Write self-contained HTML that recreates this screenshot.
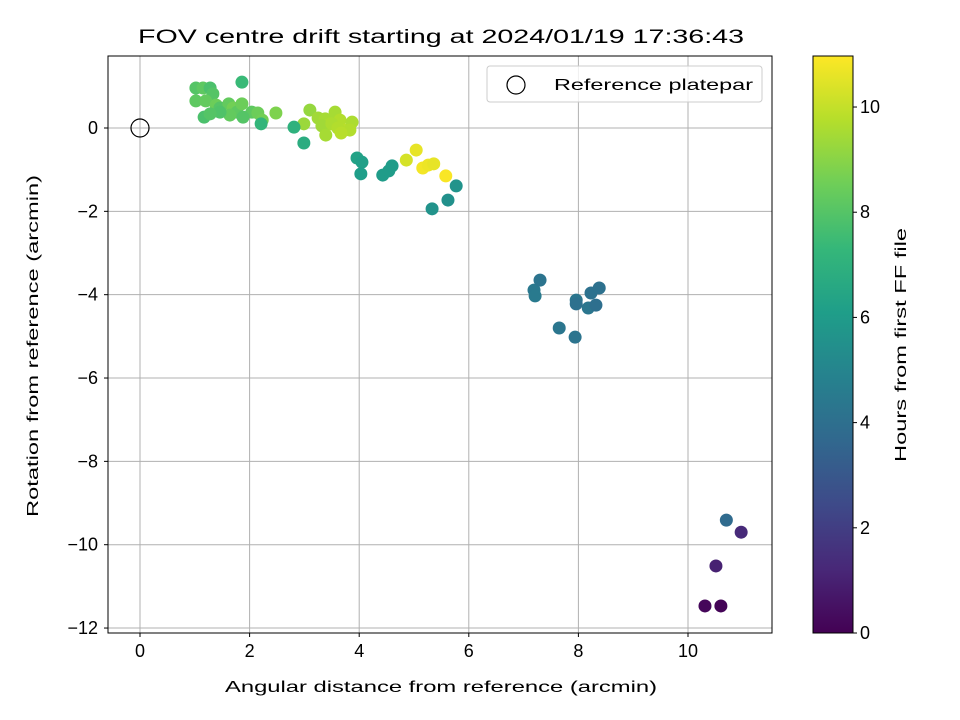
<!DOCTYPE html>
<html><head><meta charset="utf-8"><style>
body{margin:0;background:#fff}
text{font-family:"Liberation Sans","DejaVu Sans",sans-serif;fill:#000}
</style></head><body>
<svg id="chart" width="960" height="720" xmlns="http://www.w3.org/2000/svg" style="position:absolute;left:0;top:0">
<defs><linearGradient id="vir" x1="0" y1="1" x2="0" y2="0"></linearGradient></defs>
<g id="grid"></g><g id="pts"></g><g id="axes"></g>
<text x="441" y="43" font-size="19" text-anchor="middle" textLength="606" lengthAdjust="spacingAndGlyphs">FOV centre drift starting at 2024/01/19 17:36:43</text>
<text x="441" y="692" font-size="16" text-anchor="middle" textLength="432" lengthAdjust="spacingAndGlyphs">Angular distance from reference (arcmin)</text>
<text transform="translate(38,346) rotate(-90)" font-size="16" text-anchor="middle" textLength="342" lengthAdjust="spacingAndGlyphs">Rotation from reference (arcmin)</text>
<text transform="translate(906,345) rotate(-90)" font-size="16" text-anchor="middle" textLength="234" lengthAdjust="spacingAndGlyphs">Hours from first FF file</text>
<g>
<rect x="487" y="66" width="275" height="36" rx="3" fill="#fff" fill-opacity="0.8" stroke="#ccc"/>
<circle cx="516" cy="85" r="9" fill="none" stroke="#000" stroke-width="1.2"/>
<text x="554" y="90" font-size="16" textLength="199" lengthAdjust="spacingAndGlyphs">Reference platepar</text>
</g>
</svg>
<script>
const xs=[1.02,1.15,1.28,1.02,1.33,1.2,1.39,1.46,1.62,1.70,1.77,1.86,1.86,1.64,1.46,1.17,1.28,2.04,2.15,2.23,2.48,2.21,1.88,
2.99,3.10,3.25,3.38,3.47,3.56,3.32,3.65,3.74,3.87,3.83,3.39,3.50,3.61,3.67,
2.81,2.99,3.96,4.05,4.03,4.43,4.54,4.60,
4.86,5.04,5.16,5.26,5.36,5.58,
5.33,5.62,5.77,
7.19,7.21,7.30,7.65,7.94,7.96,7.96,8.18,8.23,8.32,8.38,
10.70,10.97,10.51,10.31,10.60];
const ys=[0.96,0.96,0.96,0.65,0.82,0.65,0.55,0.48,0.58,0.48,0.38,0.58,1.10,0.31,0.38,0.26,0.34,0.38,0.36,0.19,0.36,0.10,0.26,
0.10,0.43,0.24,0.22,0.10,0.38,0.05,0.19,-0.05,0.14,-0.05,-0.17,0.10,0,-0.12,
0.02,-0.36,-0.72,-0.82,-1.10,-1.13,-1.03,-0.91,
-0.77,-0.53,-0.96,-0.89,-0.86,-1.15,
-1.94,-1.73,-1.39,
-3.89,-4.03,-3.65,-4.80,-5.02,-4.13,-4.22,-4.32,-3.96,-4.25,-3.84,
-9.41,-9.70,-10.51,-11.47,-11.47];
const hrs=[8,8.2,7.8,8.2,8,8.3,8.5,8,8.3,8.6,8.2,8.5,7.4,8.3,7.9,7.8,8,8.2,8.5,8.6,8.8,7.2,8,
9.3,9.2,9.4,9.5,9.6,9.5,9.4,9.7,9.8,9.6,9.7,9.5,9.6,9.7,9.8,
7,6.8,6.3,6.2,6.1,6,6,6,
10.3,10.6,10.8,10.7,10.6,10.9,
5.6,5.5,5.6,
4.4,4.5,4.2,4.3,4.2,4.3,4.1,4.3,4.1,4,4.1,
3.8,1.3,1.0,0.2,0.1];
const xTicks=[0,2,4,6,8,10], yTicks=[0,-2,-4,-6,-8,-10,-12], cTicks=[0,2,4,6,8,10];
const X=v=>140+v*54.8, Y=v=>128-v*41.67, HMAX=10.97, C=h=>633-h/HMAX*577;
const vir=[[68,1,84],[72,40,120],[62,74,137],[49,104,142],[38,130,142],[31,158,137],[53,183,121],[110,206,88],[181,222,43],[253,231,37]];
function col(h){let t=Math.max(0,Math.min(1,h/HMAX))*(vir.length-1),i=Math.min(vir.length-2,Math.floor(t)),f=t-i;
return 'rgb('+vir[i].map((c,k)=>Math.round(c+(vir[i+1][k]-c)*f)).join(',')+')';}
const NS='http://www.w3.org/2000/svg';
function mk(p,tag,a,txt){const e=document.createElementNS(NS,tag);for(const k in a)e.setAttribute(k,a[k]);if(txt!=null)e.textContent=txt;p.appendChild(e);return e;}
const grad=document.getElementById('vir');
vir.forEach((c,i)=>mk(grad,'stop',{offset:i/(vir.length-1),'stop-color':'rgb('+c.join(',')+')'}));
const g=document.getElementById('grid'),pg=document.getElementById('pts'),ax=document.getElementById('axes');
const TF=18;
xTicks.forEach(v=>{const l=mk(g,'line',{x1:X(v),x2:X(v),y1:56,y2:633,stroke:'#b0b0b0','stroke-width':1});


mk(ax,'line',{x1:X(v),x2:X(v),y1:633,y2:637,stroke:'#000'});
const t=mk(ax,'text',{x:X(v),y:657,'font-size':TF,'text-anchor':'middle'},v);

});
yTicks.forEach(v=>{const l=mk(g,'line',{x1:108,x2:772,y1:Y(v),y2:Y(v),stroke:'#b0b0b0','stroke-width':1});


mk(ax,'line',{x1:104,x2:108,y1:Y(v),y2:Y(v),stroke:'#000'});
const t=mk(ax,'text',{x:98,y:Y(v)+6,'font-size':TF,'text-anchor':'end'},v===0?'0':'\u2212'+Math.abs(v));

});
xs.forEach((x,i)=>{const c=mk(pg,'circle',{cx:X(x),cy:Y(ys[i]),r:6.5,fill:col(hrs[i])});

});
const ref=mk(pg,'circle',{cx:X(0),cy:Y(0),r:9,fill:'none',stroke:'#000','stroke-width':1.2});


mk(ax,'rect',{x:108,y:56,width:664,height:577,fill:'none',stroke:'#000'});
const cb=mk(ax,'rect',{x:813,y:56,width:40,height:577,fill:'url(#vir)',stroke:'#000'});


cTicks.forEach(v=>{mk(ax,'line',{x1:853,x2:857,y1:C(v),y2:C(v),stroke:'#000'});
const t=mk(ax,'text',{x:860,y:C(v)+6,'font-size':TF},v);

});
</script>
</body></html>
